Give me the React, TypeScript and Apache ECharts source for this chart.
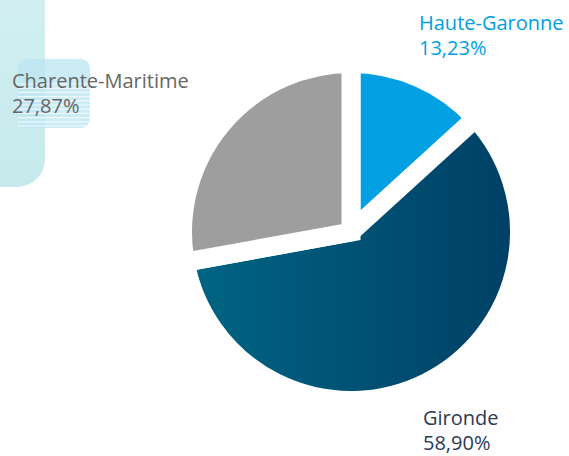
import React, { useEffect, useRef } from "react";
import * as echarts from "echarts";

const regions = ["Haute-Garonne", "Gironde", "Charente-Maritime"];
const shares = [13.23, 58.9, 27.87];
const shareLabels = ["13,23%", "58,90%", "27,87%"];

const labelPos = [
  { x: 419, y: 8 },
  { x: 423, y: 403 },
  { x: 12, y: 66 },
];
const labelColors = ["#009fe3", "#2b3a57", "#666666"];

export default function App() {
  const ref = useRef<HTMLDivElement>(null);
  useEffect(() => {
    if (!ref.current) return;
    const chart = echarts.init(ref.current, null, { renderer: "svg" });
    const sliceColors: any[] = [
      "#00a0e3",
      new echarts.graphic.LinearGradient(0, 0, 1, 0, [
        { offset: 0, color: "#006584" },
        { offset: 1, color: "#003f65" },
      ]),
      "#9e9e9e",
    ];
    const stripes = [];
    for (let i = 0; i < 11; i++) {
      stripes.push({
        type: "line",
        shape: { x1: 18, y1: 84 + i * 4.2, x2: 90, y2: 84 + i * 4.2 },
        style: { stroke: "rgba(255,255,255,0.75)", lineWidth: 1.2 },
        z: 1,
      });
    }
    chart.setOption({
      animation: false,
      backgroundColor: "#ffffff",
      graphic: [
        {
          type: "rect",
          shape: { x: -40, y: -30, width: 85, height: 217, r: 28 },
          style: {
            fill: new echarts.graphic.LinearGradient(0, 0, 0, 1, [
              { offset: 0, color: "#d3f0f1" },
              { offset: 1, color: "#c6eaec" },
            ]),
          },
          z: 0,
        },
        {
          type: "rect",
          shape: { x: 18, y: 59, width: 72, height: 69, r: 9 },
          style: { fill: "rgba(190,230,243,0.8)" },
          z: 0,
        },
        ...stripes,
      ],
      series: [
        {
          type: "pie",
          center: [351, 232],
          radius: 168.5,
          startAngle: 90,
          clockwise: true,
          z: 5,
          itemStyle: {
            borderColor: "#ffffff",
            borderWidth: 19,
            borderJoin: "miter",
            borderMiterLimit: 20,
          },
          label: {
            show: true,
            position: "outside",
            overflow: "none",
            fontFamily: "Open Sans",
            fontSize: 20,
            formatter: (p: any) =>
              "{a|" + regions[p.dataIndex] + "}\n{b|" + shareLabels[p.dataIndex] + "}",
            rich: {
              a: { fontFamily: "Open Sans", fontSize: 20, lineHeight: 29 },
              b: { fontFamily: "Open Sans", fontSize: 20, lineHeight: 20 },
            },
          },
          labelLine: { show: false },
          labelLayout: (p: any) => ({
            x: labelPos[p.dataIndex].x,
            y: labelPos[p.dataIndex].y,
            align: "left",
            verticalAlign: "top",
          }),
          emphasis: { disabled: true },
          data: regions.map((name, i) => ({
            name,
            value: shares[i],
            itemStyle: { color: sliceColors[i] },
            label: {
              color: labelColors[i],
              rich: {
                a: { color: labelColors[i] },
                b: { color: labelColors[i] },
              },
            },
          })),
        },
      ],
    });
    return () => chart.dispose();
  }, []);
  return (
    <div
      ref={ref}
      style={{ position: "absolute", left: 0, top: 0, width: 569, height: 456 }}
    />
  );
}
